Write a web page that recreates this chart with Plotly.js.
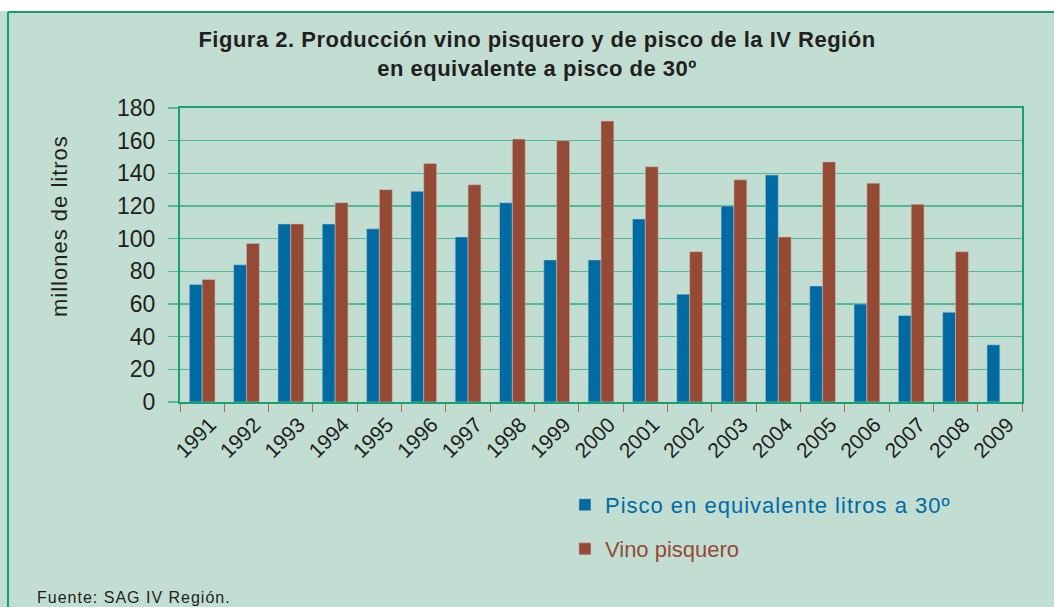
<!DOCTYPE html>
<html>
<head>
<meta charset="utf-8">
<script src="https://cdn.plot.ly/plotly-3.0.1.min.js"></script>
<style>
  html, body { margin: 0; padding: 0; background: #c2ded3; }
  #chart { width: 1054px; height: 607px; }
  .legendtext { letter-spacing: 1px; }
  .annotation-text { letter-spacing: 1px; }
  .gtitle { letter-spacing: 0.5px; }
</style>
</head>
<body>
<div id="chart"></div>
<script>
const years = ["1991","1992","1993","1994","1995","1996","1997","1998","1999","2000",
               "2001","2002","2003","2004","2005","2006","2007","2008","2009"];
const pisco = [72, 84, 109, 109, 106, 129, 101, 122, 87, 87, 112, 66, 120, 139, 71, 60, 53, 55, 35];
const vino  = [75, 97, 109, 122, 130, 146, 133, 161, 160, 172, 144, 92, 136, 101, 147, 134, 121, 92, null];
const yTicks = [0, 20, 40, 60, 80, 100, 120, 140, 160, 180];

const BLUE = "#006aa3";
const BROWN = "#944a35";
const BG = "#c2ded3";
const GREEN = "#1a9f6e";
const GRID = "#52b891";
const TXT = "#231f20";
const FONT = "Liberation Sans, Arial, Helvetica, sans-serif";

const traces = [
  {
    type: "bar", x: years, y: pisco,
    name: '<span style="color:' + BLUE + '">Pisco en equivalente litros a 30º</span>',
    marker: { color: BLUE, line: { color: "rgba(190,200,200,0.55)", width: 1 } },
    legend: "legend", hoverinfo: "x+y"
  },
  {
    type: "bar", x: years, y: vino,
    name: '<span style="color:' + BROWN + '">Vino pisquero</span>',
    marker: { color: BROWN, line: { color: "rgba(200,190,185,0.55)", width: 1 } },
    legend: "legend2", hoverinfo: "x+y"
  }
];

const layout = {
  width: 1054, height: 607,
  margin: { l: 180, r: 32, t: 108, b: 205 },
  paper_bgcolor: BG, plot_bgcolor: BG,
  font: { family: FONT, color: TXT },
  barmode: "group", bargap: 0.42, bargroupgap: 0,
  title: {
    text: "<b>Figura 2. Producción vino pisquero y de pisco de la IV Región<br>en equivalente a pisco de 30º</b>",
    font: { family: FONT, size: 22, color: TXT },
    xref: "container", x: 0.5095, xanchor: "center",
    yref: "container", y: 0.9225, yanchor: "middle"
  },
  xaxis: {
    type: "category",
    showline: true, linecolor: GREEN, linewidth: 2, mirror: true,
    ticks: "outside", tickson: "boundaries", ticklen: 8, tickwidth: 1, tickcolor: "#a86a62",
    tickangle: -45, tickfont: { size: 21, color: TXT, family: FONT },
    ticklabelshift: 8, ticklabelstandoff: 0,
    showgrid: false, zeroline: false, fixedrange: true
  },
  yaxis: {
    range: [0, 180], tickvals: yTicks,
    showline: true, linecolor: GREEN, linewidth: 2, mirror: true,
    ticks: "outside", ticklen: 10, tickwidth: 1.5, tickcolor: GRID,
    showgrid: true, gridcolor: GRID, gridwidth: 1.5,
    zeroline: false,
    tickfont: { size: 23, color: TXT, family: FONT },
    ticklabelstandoff: 8,
    fixedrange: true
  },
  showlegend: true,
  legend: {
    x: 0.4572, xanchor: "left", y: -0.3503, yanchor: "middle",
    bgcolor: "rgba(0,0,0,0)", borderwidth: 0,
    font: { size: 22, family: FONT, color: BLUE }
  },
  legend2: {
    x: 0.4572, xanchor: "left", y: -0.5, yanchor: "middle",
    bgcolor: "rgba(0,0,0,0)", borderwidth: 0,
    font: { size: 22, family: FONT, color: BROWN }
  },
  shapes: [
    { type: "rect", xref: "paper", yref: "paper", x0: -0.3, x1: 1.2, y0: 1.3299, y1: 1.40,
      fillcolor: "#ffffff", line: { width: 0 }, layer: "above" },
    { type: "line", xref: "paper", yref: "paper", x0: -0.2043, x1: 1.1, y0: 1.3265, y1: 1.3265,
      line: { color: "#12a06c", width: 2 }, layer: "above" },
    { type: "line", xref: "paper", yref: "paper", x0: -0.2043, x1: -0.2043, y0: 1.3265, y1: -0.75,
      line: { color: "#12a06c", width: 2 }, layer: "above" }
  ],
  annotations: [
    { text: "millones de litros", xref: "paper", yref: "paper",
      x: (59 - 180) / 842, xanchor: "center", y: (402 - 226) / 294, yanchor: "middle",
      textangle: -90, showarrow: false, font: { size: 22, family: FONT, color: TXT } },
    { text: "Fuente: SAG IV Región.", xref: "paper", yref: "paper",
      x: -0.1722, xanchor: "left", y: -0.6633, yanchor: "middle",
      showarrow: false, font: { size: 16, family: FONT, color: TXT } }
  ]
};

Plotly.newPlot("chart", traces, layout, { displayModeBar: false, staticPlot: true });
</script>
</body>
</html>
